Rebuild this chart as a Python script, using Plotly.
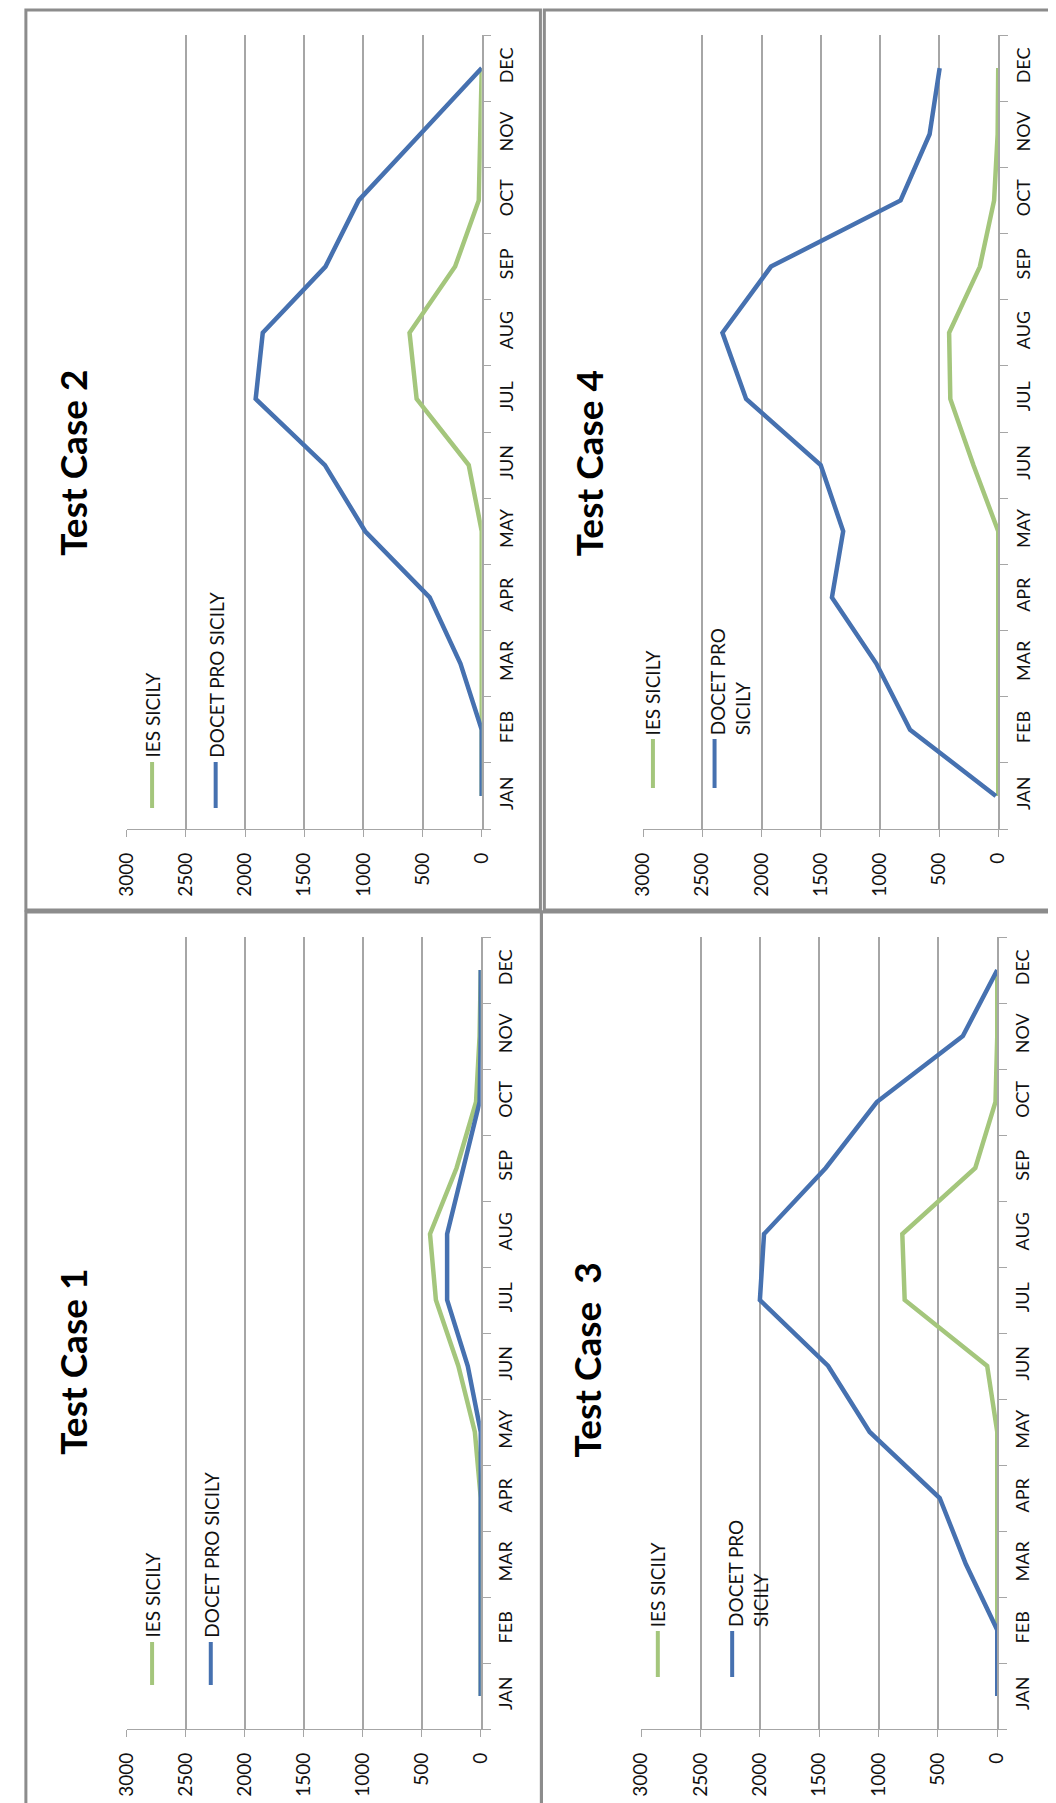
import plotly.graph_objects as go

# ---------------- data ----------------
months = ["JAN", "FEB", "MAR", "APR", "MAY", "JUN", "JUL", "AUG", "SEP", "OCT", "NOV", "DEC"]
value_ticks = [0, 500, 1000, 1500, 2000, 2500, 3000]
series_names = ["IES SICILY", "DOCET PRO SICILY"]

ies_tc1 = [0, 0, 0, 0, 50, 190, 380, 430, 205, 40, 10, 0]
docet_tc1 = [0, 0, 0, 0, 0, 110, 285, 285, 150, 10, 0, 0]

ies_tc2 = [0, 0, 0, 0, 0, 110, 550, 610, 225, 25, 10, 0]
docet_tc2 = [0, 0, 180, 440, 985, 1325, 1910, 1850, 1320, 1040, 520, 0]

ies_tc3 = [0, 0, 0, 0, 0, 85, 780, 800, 185, 15, 0, 0]
docet_tc3 = [0, 0, 265, 485, 1075, 1425, 2000, 1965, 1445, 1015, 290, 0]

ies_tc4 = [0, 0, 0, 0, 0, 210, 405, 415, 155, 35, 5, 0]
docet_tc4 = [20, 745, 1030, 1405, 1310, 1500, 2130, 2330, 1920, 825, 580, 495]

# ---------------- style ----------------
W, H = 1056, 1803
BLUE = "#4671B0"
GREEN = "#A4C67C"
GRID = "#A6A6A6"
FRAME = "#8C8C8C"
FONT = "Lato, 'Open Sans', sans-serif"


def px(x):
    return x / W


def py(y):
    return 1 - y / H


panels = [
    dict(title="Test Case 2", ies=ies_tc2, docet=docet_tc2, box=(108, 471, 27, 821),
         tpos=(52, 455), g=(134, 754, 800), b=(199, 754, 800), docet_text="DOCET PRO SICILY"),
    dict(title="Test Case 4", ies=ies_tc4, docet=docet_tc4, box=(636, 999, 27, 821),
         tpos=(580, 455), g=(646, 731, 780), b=(709, 731, 780), docet_text="DOCET PRO<br>SICILY"),
    dict(title="Test Case 1", ies=ies_tc1, docet=docet_tc1, box=(108, 470, 929, 1721),
         tpos=(52, 1354), g=(134, 1634, 1677), b=(194, 1634, 1677), docet_text="DOCET PRO SICILY"),
    dict(title="Test Case\u00a0 3", ies=ies_tc3, docet=docet_tc3, box=(634, 998, 929, 1721),
         tpos=(578, 1352), g=(651, 1623, 1669), b=(727, 1623, 1669), docet_text="DOCET PRO<br>SICILY"),
]

frames = [(5, 2, 531, 902), (535, 2, 1054, 902), (5, 904, 532, 1801), (532, 904, 1054, 1801)]

fig = go.Figure()
layout = dict(
    width=W, height=H, margin=dict(l=0, r=0, t=0, b=0),
    paper_bgcolor="white", plot_bgcolor="white", showlegend=False,
    font=dict(family=FONT, color="#111111"),
)
annotations = []
shapes = []

for i, p in enumerate(panels, start=1):
    xs = "" if i == 1 else str(i)
    x0, x1, y0, y1 = p["box"]
    fig.add_trace(go.Scatter(x=p["ies"], y=months, mode="lines", name=series_names[0],
                             line=dict(color=GREEN, width=4.5), xaxis="x" + xs, yaxis="y" + xs,
                             hoverinfo="skip"))
    fig.add_trace(go.Scatter(x=p["docet"], y=months, mode="lines", name=series_names[1],
                             line=dict(color=BLUE, width=4.5), xaxis="x" + xs, yaxis="y" + xs,
                             hoverinfo="skip"))
    layout["xaxis" + xs] = dict(
        domain=[px(x0), px(x1)], anchor="y" + xs, range=[3000, 0],
        tickvals=value_ticks, ticktext=[str(v) for v in value_ticks],
        tickangle=-90, ticks="outside", ticklen=7, tickwidth=1.2, tickcolor=GRID,
        ticklabelstandoff=8,
        showgrid=True, gridcolor=GRID, gridwidth=1.5, zeroline=False,
        showline=True, linecolor=GRID, linewidth=1.2,
        tickfont=dict(family=FONT, size=19, color="#111111"), fixedrange=True,
    )
    layout["yaxis" + xs] = dict(
        domain=[py(y1), py(y0)], anchor="x" + xs, side="right", type="category",
        categoryorder="array", categoryarray=months, range=[-0.5, 11.5],
        tickangle=-90, ticks="outside", ticklen=8, tickwidth=1.2, tickcolor=GRID,
        ticklabelstandoff=8,
        tickson="boundaries", showgrid=False, zeroline=False,
        showline=True, linecolor=GRID, linewidth=1.5,
        tickfont=dict(family=FONT, size=18, color="#111111"), fixedrange=True,
    )
    # title
    tx, ty = p["tpos"]
    annotations.append(dict(text="<b>" + p["title"] + "</b>", x=px(tx), y=py(ty),
                            xref="paper", yref="paper", xanchor="center", yanchor="middle",
                            textangle=-90, showarrow=False,
                            font=dict(family=FONT, size=37, color="#000000")))
    # legend
    gx, gy0, gy1 = p["g"]
    bx, by0, by1 = p["b"]
    shapes.append(dict(type="line", xref="paper", yref="paper", x0=px(gx), x1=px(gx),
                       y0=py(gy0), y1=py(gy1), line=dict(color=GREEN, width=4)))
    shapes.append(dict(type="line", xref="paper", yref="paper", x0=px(bx), x1=px(bx),
                       y0=py(by0), y1=py(by1), line=dict(color=BLUE, width=4)))
    annotations.append(dict(text=series_names[0], x=px(gx), y=py(gy0 - 2),
                            xref="paper", yref="paper", xanchor="center", yanchor="bottom",
                            textangle=-90, showarrow=False,
                            font=dict(family=FONT, size=19, color="#111111")))
    two_line = "<br>" in p["docet_text"]
    annotations.append(dict(text=p["docet_text"], x=px(bx - 11) if two_line else px(bx),
                            y=py(by0 - 2), xref="paper", yref="paper",
                            xanchor="left" if two_line else "center", yanchor="bottom",
                            align="left", textangle=-90, showarrow=False,
                            font=dict(family=FONT, size=19, color="#111111")))

for (a, b, c, d) in frames:
    shapes.append(dict(type="rect", xref="paper", yref="paper", x0=px(a), x1=px(c),
                       y0=py(b), y1=py(d), line=dict(color=FRAME, width=3), layer="below"))

layout["annotations"] = annotations
layout["shapes"] = shapes
fig.update_layout(**layout)
fig.write_html("out.html")
